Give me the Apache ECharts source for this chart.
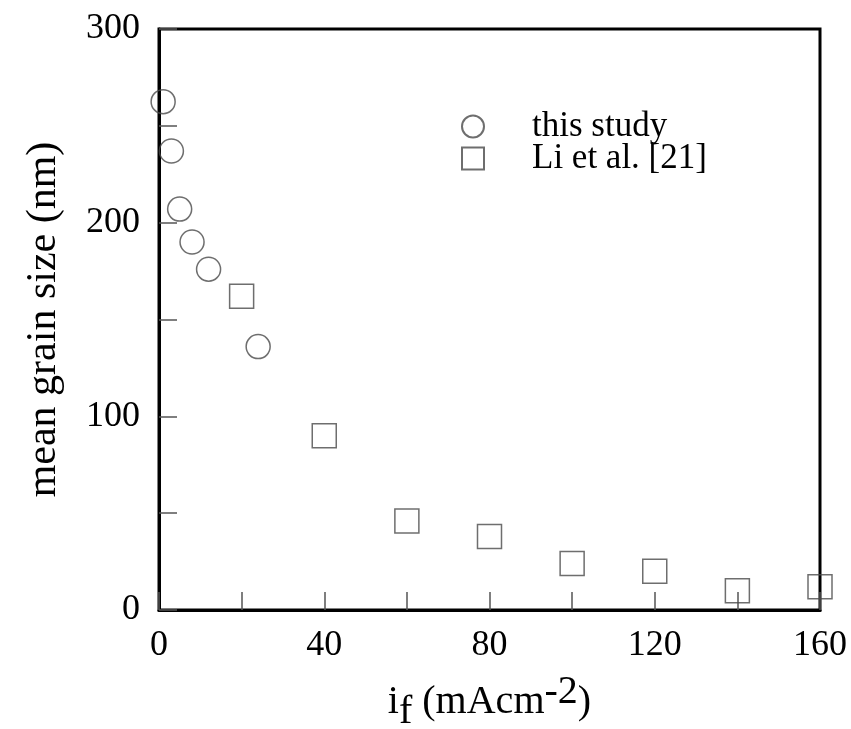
<!DOCTYPE html>
<html>
<head>
<meta charset="utf-8">
<script src="https://cdn.jsdelivr.net/npm/echarts@6/dist/echarts.min.js"></script>
<style>html,body{margin:0;padding:0;background:#fff;}#c{width:851px;height:729px;}</style>
</head>
<body>
<div id="c"></div>
<script>
// Data
var thisStudyX = [1, 3, 5, 8, 12, 24];
var thisStudyY = [262.5, 237, 207, 190, 176, 136];
var liX = [20, 40, 60, 80, 100, 120, 140, 160];
var liY = [162, 90, 46, 38, 24, 20, 10, 12];
var seriesNames = ['this study', 'Li et al. [21]'];
var xTickLabels = [0, 40, 80, 120, 160];
var yTickLabels = [0, 100, 200, 300];

function pairs(xs, ys) { return xs.map(function (x, i) { return [x, ys[i]]; }); }

var font = 'Liberation Serif, Times New Roman, serif';
var chart = echarts.init(document.getElementById('c'), null, { renderer: 'canvas' });
chart.setOption({
  animation: false,
  backgroundColor: '#fff',
  grid: { left: 159, right: 31, top: 29, bottom: 119, containLabel: false, outerBoundsMode: 'none', show: true, borderColor: '#000', borderWidth: 3, backgroundColor: 'transparent' },
  legend: {
    orient: 'vertical',
    left: 456,
    top: 104,
    itemWidth: 22,
    itemHeight: 22,
    itemGap: -3,
    textStyle: { fontFamily: font, fontSize: 35, color: '#000', lineHeight: 32, padding: [0, 0, 0, 43] },
    data: [
      { name: seriesNames[0], icon: 'circle' },
      { name: seriesNames[1], icon: 'rect' }
    ]
  },
  xAxis: {
    type: 'value', min: 0, max: 160, interval: 20,
    axisLine: { show: true, lineStyle: { color: '#000', width: 3 } },
    axisTick: { show: true, inside: true, length: 18, lineStyle: { color: '#555', width: 1.5 } },
    splitLine: { show: false },
    axisLabel: {
      fontFamily: font, fontSize: 36, color: '#000', margin: 18,
      formatter: function (v) { return xTickLabels.indexOf(v) >= 0 ? String(v) : ''; }
    },
    name: '{n|i}{f|f}{n| (mAcm}{s|-2}{n|)}',
    nameLocation: 'middle',
    nameGap: 62,
    nameTextStyle: {
      fontFamily: font, fontSize: 40, color: '#000',
      rich: {
        n: { fontFamily: font, fontSize: 40, color: '#000', lineHeight: 60, verticalAlign: 'middle' },
        f: { fontFamily: font, fontSize: 40, color: '#000', lineHeight: 40, verticalAlign: 'bottom' },
        s: { fontFamily: font, fontSize: 40, color: '#000', lineHeight: 40, verticalAlign: 'top' }
      }
    }
  },
  yAxis: {
    type: 'value', min: 0, max: 300, interval: 50,
    axisLine: { show: true, lineStyle: { color: '#000', width: 3 } },
    axisTick: { show: true, inside: true, length: 18, lineStyle: { color: '#555', width: 1.5 } },
    splitLine: { show: false },
    axisLabel: {
      fontFamily: font, fontSize: 36, color: '#000', margin: 19,
      formatter: function (v) { return yTickLabels.indexOf(v) >= 0 ? String(v) : ''; }
    },
    name: 'mean grain size (nm)',
    nameLocation: 'middle',
    nameGap: 94,
    nameTextStyle: { fontFamily: font, fontSize: 42, color: '#000' }
  },
  series: [
    {
      name: seriesNames[0], type: 'scatter', symbol: 'circle', symbolSize: 24, clip: false,
      itemStyle: { color: 'rgba(255,255,255,0)', borderColor: '#4a4a4a', borderWidth: 1.5 },
      data: pairs(thisStudyX, thisStudyY)
    },
    {
      name: seriesNames[1], type: 'scatter', symbol: 'rect', symbolSize: 24, clip: false,
      itemStyle: { color: 'rgba(255,255,255,0)', borderColor: '#4a4a4a', borderWidth: 1.5 },
      data: pairs(liX, liY)
    }
  ]
});
</script>
</body>
</html>
